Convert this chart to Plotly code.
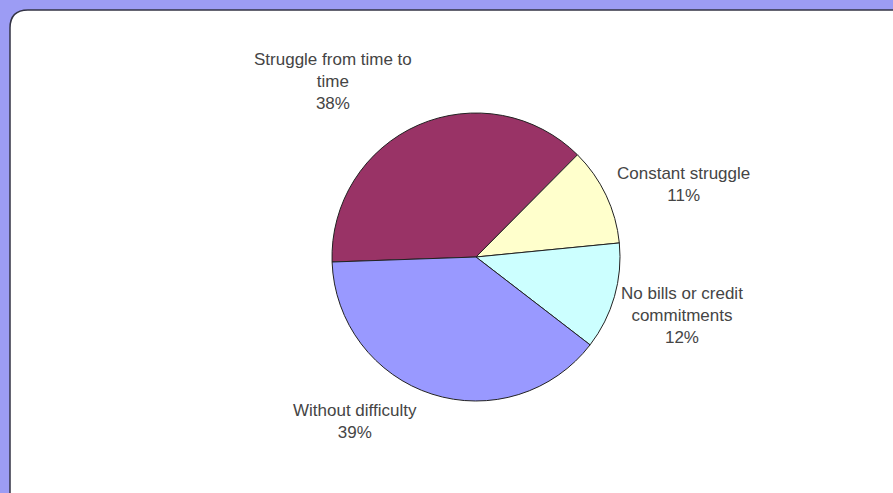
import plotly.graph_objects as go

categories = ["Struggle from time to time", "Constant struggle", "No bills or credit commitments", "Without difficulty"]
values = [38, 11, 12, 39]
colors = ["#993366", "#FFFFCC", "#CCFFFF", "#9999FF"]
label_text = ["Struggle from time to<br>time", "Constant struggle", "No bills or credit<br>commitments", "Without difficulty"]

W, H = 893, 493

fig = go.Figure(go.Pie(
    labels=categories,
    values=values,
    sort=False,
    direction="clockwise",
    rotation=268,
    marker=dict(colors=colors, line=dict(color="#222222", width=1)),
    textinfo="none",
    hoverinfo="label+percent",
    showlegend=False,
    domain=dict(x=[(476 - 144) / W, (476 + 144) / W], y=[(236 - 144) / H, (236 + 144) / H]),
))

# label anchor positions in pixels (layout only)
label_pos = [(333, 81), (683, 185), (682, 315), (355, 421)]
total = sum(values)
for txt, v, (px, py) in zip(label_text, values, label_pos):
    pct = round(100 * v / total)
    fig.add_annotation(
        x=px / W, y=1 - py / H, xref="paper", yref="paper",
        text=f"{txt}<br>{pct}%", showarrow=False,
        xanchor="center", yanchor="middle",
        font=dict(family="Liberation Sans, Arial, sans-serif", size=17, color="#454545"),
    )

# white rounded panel on periwinkle background
x0, y0 = 10 / W, 1 - 10 / H
r = 18
rx, ry = r / W, r / H
path = (f"M {x0} -0.05 L {x0} {y0 - ry} Q {x0} {y0} {x0 + rx} {y0} "
        f"L 1.05 {y0} L 1.05 -0.05 Z")
fig.add_shape(type="path", path=path, xref="paper", yref="paper",
              fillcolor="white", line=dict(color="#333344", width=1.5), layer="below")

fig.update_layout(
    width=W, height=H,
    margin=dict(l=0, r=0, t=0, b=0),
    paper_bgcolor="#9C9CF4",
    plot_bgcolor="white",
)

fig.write_html("out.html", config={"displayModeBar": False},
               post_script="document.body.style.margin='0';document.body.style.overflow='hidden';")
